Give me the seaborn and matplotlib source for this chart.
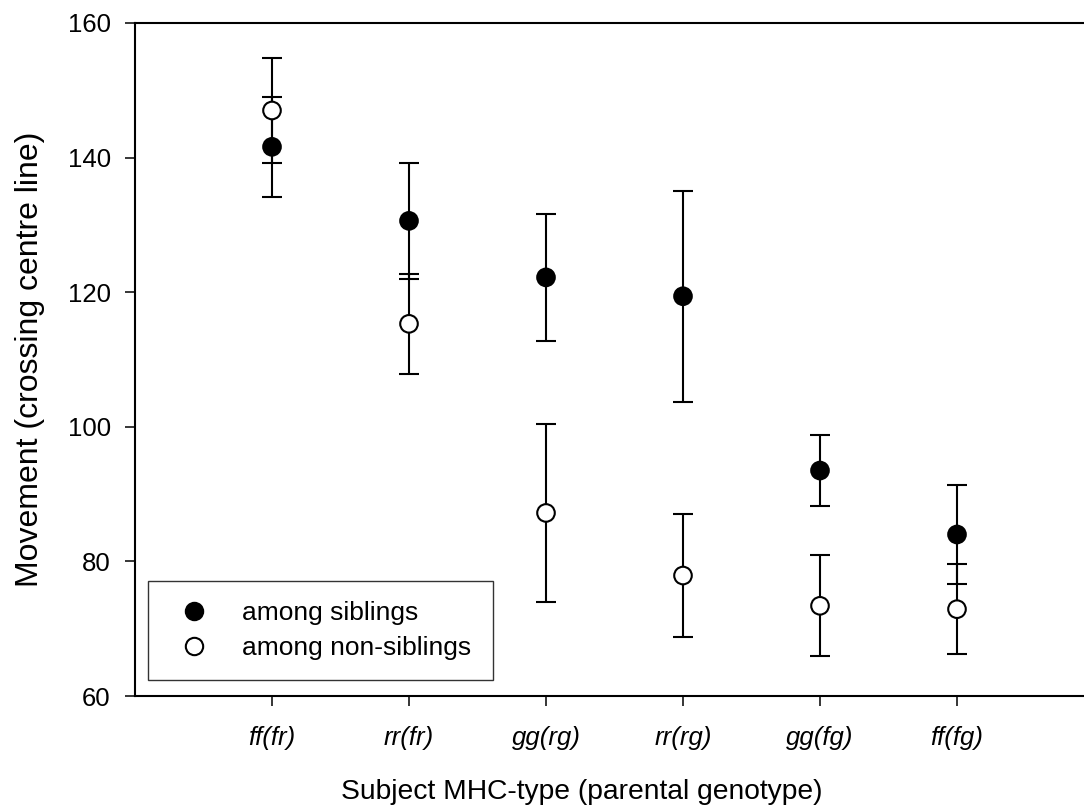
import numpy as np
import pandas as pd
import seaborn as sns
import matplotlib.pyplot as plt
from matplotlib.lines import Line2D

# Data (mean +/- error)
genotypes = ['ff(fr)', 'rr(fr)', 'gg(rg)', 'rr(rg)', 'gg(fg)', 'ff(fg)']
sib_mean = [141.6, 130.6, 122.2, 119.4, 93.5, 84.0]
sib_err = [7.4, 8.6, 9.45, 15.7, 5.25, 7.3]
nonsib_mean = [147.0, 115.3, 87.2, 77.9, 73.4, 72.9]
nonsib_err = [7.75, 7.45, 13.2, 9.1, 7.5, 6.65]
groups = ['among siblings', 'among non-siblings']

df = pd.DataFrame({
    'genotype': genotypes * 2,
    'group': [groups[0]] * 6 + [groups[1]] * 6,
    'movement': sib_mean + nonsib_mean,
    'err': sib_err + nonsib_err,
})

sns.set_style('ticks')
plt.rcParams['font.family'] = ['Liberation Sans', 'DejaVu Sans']
plt.rcParams['text.color'] = 'black'
plt.rcParams['axes.labelcolor'] = 'black'
plt.rcParams['xtick.color'] = 'black'
plt.rcParams['ytick.color'] = 'black'

fig = plt.figure(figsize=(10.84, 8.07), dpi=100)
ax = fig.add_axes([135 / 1084, 111 / 807, 959 / 1084, 673 / 807])

# error bars first, markers drawn on top
xpos = {g: i for i, g in enumerate(genotypes)}
for grp in groups:
    d = df[df['group'] == grp]
    ax.errorbar(d['genotype'].map(xpos), d['movement'], yerr=d['err'], fmt='none',
                ecolor='black', elinewidth=1.5, capsize=7.5, capthick=1.5, zorder=2)

d_plot = df.assign(x=df['genotype'].map(xpos))
sns.scatterplot(data=d_plot, x='x', y='movement', hue='group',
                palette={groups[0]: 'black', groups[1]: 'white'},
                edgecolor='black', linewidth=1.5, s=160, legend=False, ax=ax, zorder=3)

ax.set_xlim(-1, 6)
ax.set_ylim(60, 160)
ax.set_yticks(np.arange(60, 161, 20))
ax.set_xticks(range(len(genotypes)))
ax.set_xticklabels(genotypes, style='italic')
ax.tick_params(axis='both', length=7.5, width=1.1, direction='out')
ax.tick_params(axis='y', labelsize=18.5, pad=10)
ax.tick_params(axis='x', labelsize=18.5, pad=14)
for s in ['left', 'bottom', 'top']:
    ax.spines[s].set_linewidth(1.5)
    ax.spines[s].set_color('black')
ax.spines['right'].set_visible(False)

ax.set_xlabel('Subject MHC-type (parental genotype)', fontsize=20.3, labelpad=21)
ax.xaxis.label.set_x(0.466)
ax.set_ylabel('Movement (crossing centre line)', fontsize=23, labelpad=16)

handles = [
    Line2D([], [], ls='none', marker='o', ms=12.5, mfc='black', mec='black', mew=1.5),
    Line2D([], [], ls='none', marker='o', ms=12.5, mfc='white', mec='black', mew=1.5),
]
leg = ax.legend(handles, groups, loc='lower left', bbox_to_anchor=(0.0136, 0.0238, 0.36, 0.15),
                mode='expand', borderaxespad=0, fontsize=19, frameon=True, fancybox=False,
                borderpad=0.75, handlelength=2.0, handletextpad=0.8, labelspacing=0.42)
leg.get_frame().set_edgecolor('black')
leg.get_frame().set_linewidth(1.0)

fig.savefig('out.png', dpi=100)
